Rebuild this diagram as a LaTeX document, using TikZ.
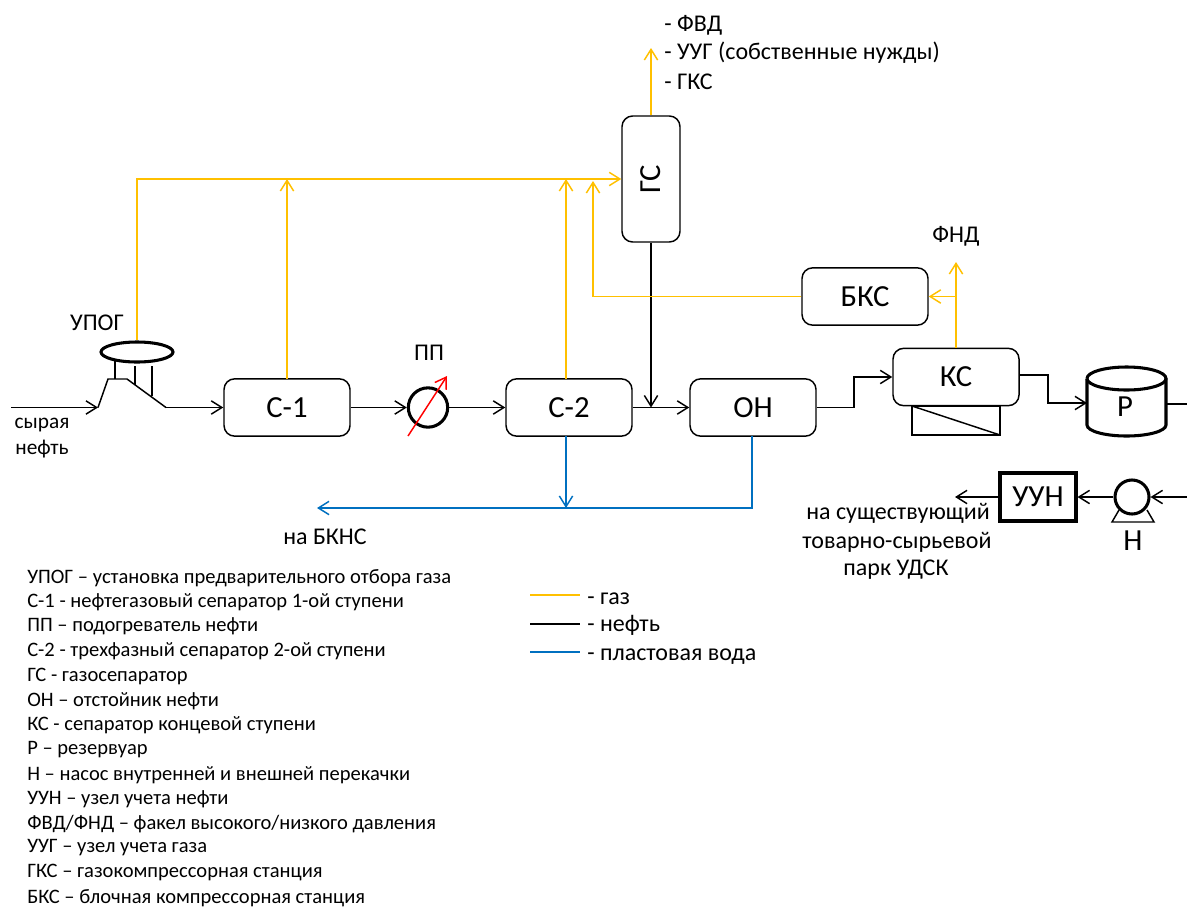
\documentclass[tikz,border=0pt]{standalone}
\usepackage{fontspec}
\setmainfont{Carlito}
\usetikzlibrary{arrows.meta,shapes.geometric}
\definecolor{gasc}{HTML}{FFC000}
\definecolor{waterc}{HTML}{0070C0}
\tikzset{
  pline/.style={line width=1.1pt,line join=miter},
  oil/.style={pline,draw=black},
  gas/.style={pline,draw=gasc},
  water/.style={pline,draw=waterc},
  barb/.style={-{Straight Barb[length=8pt,width=10pt,line width=1.1pt]}},
  procbox/.style={draw,line width=1.1pt,rounded corners=8pt,minimum width=94.5pt,minimum height=43pt,inner sep=0pt,font=\fontsize{23}{23}\selectfont},
  thickshape/.style={draw,line width=2.3pt},
  lbl/.style={inner sep=0pt,font=\fontsize{18}{20}\selectfont},
  lblsmall/.style={inner sep=0pt,font=\fontsize{16}{18}\selectfont},
  lblb/.style={inner sep=0pt,font=\fontsize{23}{23}\selectfont},
  legend/.style={inner sep=0pt,anchor=west,font=\fontsize{15.4}{17}\selectfont},
  key/.style={inner sep=0pt,anchor=west,font=\fontsize{18}{20}\selectfont},
  toptext/.style={inner sep=0pt,anchor=west,font=\fontsize{18}{20}\selectfont}
}
\begin{document}
\begin{tikzpicture}[x=0.75pt,y=-0.75pt]
\useasboundingbox (0,0) rectangle (1187,907);
% main vessels
\node[procbox] (c1) at (287,407.5) {С-1};
\node[procbox] (c2) at (569,407.5) {С-2};
\node[procbox] (on) at (753,407.5) {ОН};
\node[procbox] (ks) at (956,377) {КС};
\node[procbox] (bks) at (865,296.5) {БКС};
\node[procbox,minimum width=43.5pt,minimum height=94.5pt] (gs) at (651,179) {\rotatebox{90}{ГС}};
\node[thickshape,circle,minimum size=29.5pt,inner sep=0pt] (pp) at (428,407.5) {};
\node[thickshape,ellipse,minimum width=54pt,minimum height=15pt,inner sep=0pt] (upog) at (137,352) {};
\node[thickshape,rectangle,minimum width=57pt,minimum height=36pt,inner sep=0pt,font=\fontsize{23}{23}\selectfont] (uun) at (1038,497) {УУН};
\node[thickshape,circle,minimum size=25.5pt,inner sep=0pt] (pump) at (1132,497) {};
% tank
\draw[thickshape] (1087,378.5) arc[start angle=180,end angle=540,x radius=39.5,y radius=11.5];
\draw[thickshape] (1087,378.5) -- (1087,425) arc[start angle=180,end angle=0,x radius=39.5,y radius=11] -- (1166,378.5);
\node[lblb] (rr) at (1125,407) {Р};
\coordinate (tankin) at (1087,403);
\coordinate (tankout) at (1167,404);
% free ends
\coordinate (rawin) at (11,407.5);
\coordinate (pa) at (98,407.5);
\coordinate (pb) at (108,379);
\coordinate (pc) at (127,379);
\coordinate (pd) at (166,407.5);
\coordinate (tr) at (1187,404);
\coordinate (pr) at (1187,497);
\coordinate (uunout) at (955,497);
\coordinate (ksout) at (1019,375);
% separator ramp
\draw[oil,barb] (rawin) -- (pa);
\draw[oil] (pa) -- (pb) -- (pc) -- (pd);
\draw[oil,barb] (pd) -- (c1.west);
\draw[oil] (115,361) -- (115,379);
\draw[oil] (135,366) -- (135,385);
\draw[oil] (152,366) -- (152,396);
% oil lines
\draw[oil,barb] (c1.east) -- (pp.west);
\draw[oil,barb] (pp.east) -- (c2.west);
\draw[oil,barb] (c2.east) -- (on.west);
\draw[oil,barb] (gs.south) -- (651,407.5);
\draw[oil,barb] (on.east) -- (854,407.5) -- (854,377) -- (ks.west);
\draw[oil,barb] (ksout) -- (1048,375) -- (1048,403) -- (tankin);
\draw[oil] (tankout) -- (tr);
% under-box of KS
\draw[oil] (912,406) rectangle (1000,435);
\draw[oil] (912,406) -- (1000,435);
% red arrow
\draw[line width=1.1pt,draw=red,barb] (408,436) -- (447,376);
% gas lines
\draw[gas,barb] (upog.north) -- (137,179) -- (gs.west);
\draw[gas,barb] (287,379) -- (287,179);
\draw[gas,barb] (566,379) -- (566,179);
\draw[gas,barb] (bks.west) -- (593,296.5) -- (593,181);
\draw[gas,barb] (gs.north) -- (651,48);
\draw[gas,barb] (ks.north) -- (956,262);
\draw[gas,barb] (956,296.5) -- (bks.east);
% water lines
\draw[water,barb] (566,436) -- (566,508);
\draw[water,barb] (752,436) -- (752,508) -- (317,508);
% bottom line
\draw[oil,barb] (pr) -- (pump.east);
\draw[oil,barb] (pump.west) -- (uun.east);
\draw[oil,barb] (uun.west) -- (uunout);
\draw[oil] (1119,510) -- (1112,522) -- (1154,522) -- (1147,510);
% labels
\node[lbl] (tupog) at (97,323) {УПОГ};
\node[lbl] (tpp) at (429,352.5) {ПП};
\node[lblsmall] (traw1) at (42,425) {сырая};
\node[lblsmall] (traw2) at (42,449) {нефть};
\node[lbl] (tbkns) at (325,537) {на БКНС};
\node[lbl] (tfnd) at (956,236) {ФНД};
\node[toptext] (tt1) at (664,25.5) {- ФВД};
\node[toptext] (tt2) at (664,53) {- УУГ (собственные нужды)};
\node[toptext] (tt3) at (664,82) {- ГКС};
\node[lblb] (tn) at (1133,541) {Н};
\node[lbl] (ts1) at (898,513) {на существующий};
\node[lbl] (ts2) at (897,542) {товарно-сырьевой};
\node[lbl] (ts3) at (896,570) {парк УДСК};
% key
\draw[gas] (530,595) -- (580,595);
\draw[oil] (530,624) -- (580,624);
\draw[water] (530,652) -- (580,652);
\node[key] (k1) at (587,599) {- газ};
\node[key] (k2) at (587,625) {- нефть};
\node[key] (k3) at (587,657) {- пластовая вода};
% legend
\node[legend] (l1) at (27,578) {УПОГ – установка предварительного отбора газа};
\node[legend] (l2) at (27,602) {С-1 - нефтегазовый сепаратор 1-ой ступени};
\node[legend] (l3) at (27,626) {ПП – подогреватель нефти};
\node[legend] (l4) at (27,651) {С-2 - трехфазный сепаратор 2-ой ступени};
\node[legend] (l5) at (27,676) {ГС - газосепаратор};
\node[legend] (l6) at (27,701) {ОН – отстойник нефти};
\node[legend] (l7) at (27,725) {КС - сепаратор концевой ступени};
\node[legend] (l8) at (27,750) {Р – резервуар};
\node[legend] (l9) at (27,775) {Н – насос внутренней и внешней перекачки};
\node[legend] (l10) at (27,799) {УУН – узел учета нефти};
\node[legend] (l11) at (27,824) {ФВД/ФНД – факел высокого/низкого давления};
\node[legend] (l12) at (27,848) {УУГ – узел учета газа};
\node[legend] (l13) at (27,873) {ГКС – газокомпрессорная станция};
\node[legend] (l14) at (27,898) {БКС – блочная компрессорная станция};
\end{tikzpicture}
\end{document}
